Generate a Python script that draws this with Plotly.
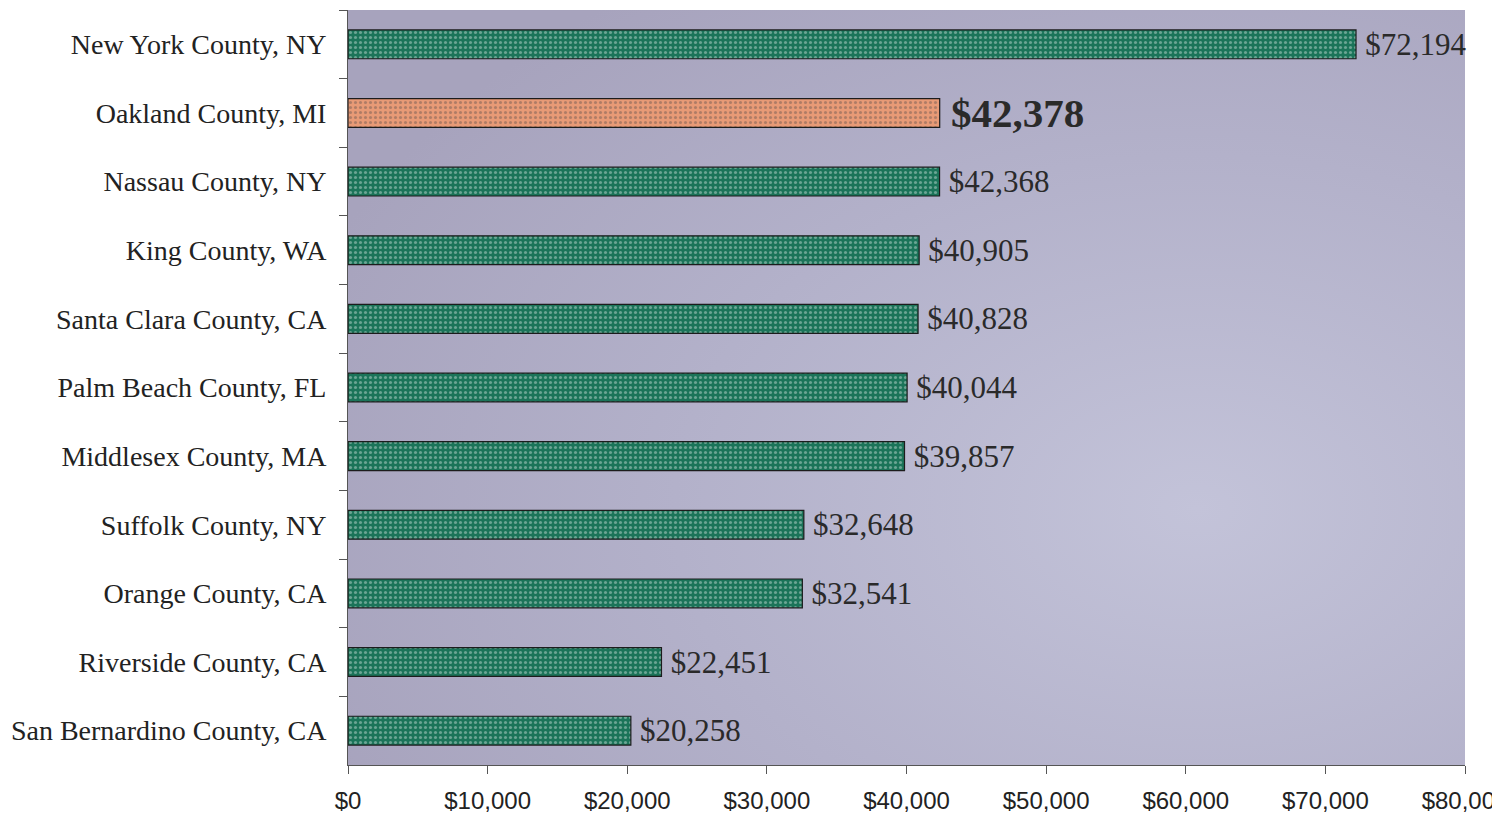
import plotly.graph_objects as go
import urllib.parse

counties = ["New York County, NY", "Oakland County, MI", "Nassau County, NY", "King County, WA",
            "Santa Clara County, CA", "Palm Beach County, FL", "Middlesex County, MA",
            "Suffolk County, NY", "Orange County, CA", "Riverside County, CA",
            "San Bernardino County, CA"]
values = [72194, 42378, 42368, 40905, 40828, 40044, 39857, 32648, 32541, 22451, 20258]
highlight = "Oakland County, MI"
x_tickvals = [0, 10000, 20000, 30000, 40000, 50000, 60000, 70000, 80000]
x_ticktext = ["$0", "$10,000", "$20,000", "$30,000", "$40,000", "$50,000", "$60,000", "$70,000", "$80,000"]

green = "#1b7459"
salmon = "#e89a76"
colors = [salmon if c == highlight else green for c in counties]
pat_fg = ["#f4c09c" if c == highlight else "#45a88b" for c in counties]
texts = [f"<b>\u2009${v:,}</b>" if c == highlight else f"\u2009${v:,}" for c, v in zip(counties, values)]
tsizes = [41 if c == highlight else 31 for c in counties]

svg = ("<svg xmlns='http://www.w3.org/2000/svg' width='100' height='100' preserveAspectRatio='none'>"
       "<defs><radialGradient id='g' cx='0.76' cy='0.66' r='0.85'>"
       "<stop offset='0' stop-color='#c3c3d9'/><stop offset='0.55' stop-color='#b3b1ca'/>"
       "<stop offset='1' stop-color='#a7a3bd'/>"
       "</radialGradient></defs><rect width='100' height='100' fill='url(#g)'/></svg>")
svg_uri = "data:image/svg+xml;charset=utf-8," + urllib.parse.quote(svg)

fig = go.Figure(go.Bar(
    x=values, y=counties, orientation="h",
    marker=dict(color=colors, line=dict(color="#1c1c1c", width=1.2),
                pattern=dict(shape=".", fgcolor=pat_fg, size=5, solidity=0.3, fgopacity=0.35)),
    width=0.42,
    text=texts, textposition="outside", constraintext="none",
    textfont=dict(family="Liberation Serif", size=tsizes, color="#2a2a2a"),
    cliponaxis=False, hoverinfo="skip",
))

fig.update_layout(
    width=1492, height=813,
    margin=dict(l=348, r=27, t=10, b=48, autoexpand=False),
    paper_bgcolor="white", plot_bgcolor="rgba(0,0,0,0)",
    showlegend=False,
    images=[dict(source=svg_uri, xref="paper", yref="paper", x=0, y=1, sizex=1, sizey=1,
                 sizing="stretch", layer="below")],
)
fig.update_yaxes(type="category", categoryorder="array", categoryarray=counties, autorange="reversed",
                 tickson="boundaries", ticks="outside", ticklen=8, tickcolor="#555",
                 showline=True, linecolor="#555", linewidth=1, showgrid=False, automargin=False,
                 tickfont=dict(family="Liberation Serif", size=28, color="#222"), ticklabelstandoff=15)
fig.update_xaxes(range=[0, 80000], tickvals=x_tickvals, ticktext=x_ticktext,
                 ticks="outside", ticklen=8, tickcolor="#555", showline=True, linecolor="#555",
                 linewidth=1, showgrid=False, zeroline=False, ticklabeloverflow="allow", automargin=False,
                 tickfont=dict(family="Liberation Sans", size=24, color="#222"), ticklabelstandoff=6)

fig.write_html("out.html", config={"displayModeBar": False},
               post_script="document.body.style.margin='0';document.body.style.overflow='hidden';")
